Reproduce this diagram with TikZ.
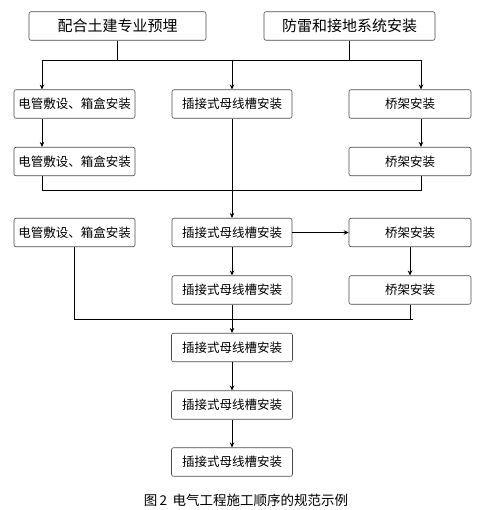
\documentclass[tikz,border=0pt]{standalone}
\usepackage{fontspec}
\newfontfamily\cjk{Noto Sans CJK SC}
\usetikzlibrary{arrows.meta}
\begin{document}
\begin{tikzpicture}[x=1pt,y=-1pt,
  box/.style={draw=black!70, rounded corners=2pt, minimum height=28.5pt, inner sep=0pt,
    line width=0.6pt, font=\cjk\fontsize{12.5}{14}\selectfont},
  topbox/.style={box, font=\cjk\fontsize{15}{17}\selectfont},
  ln/.style={draw=black, line width=0.8pt},
  arr/.style={ln, -{Stealth[length=5pt,width=4.5pt]}}]
\useasboundingbox (0,0) rectangle (483,510);
\fill[white] (0,0) rectangle (483,510);
% top
\node[topbox, minimum width=177pt] (t1) at (117.5,26) {配合土建专业预埋};
\node[topbox, minimum width=171pt] (t2) at (349.5,26) {防雷和接地系统安装};
% row 1
\node[box, minimum width=121pt] (a1) at (74.5,104) {电管敷设、箱盒安装};
\node[box, minimum width=120pt] (b1) at (232,104) {插接式母线槽安装};
\node[box, minimum width=122pt] (c1) at (410,104) {桥架安装};
% row 2
\node[box, minimum width=121pt] (a2) at (74.5,161.5) {电管敷设、箱盒安装};
\node[box, minimum width=122pt] (c2) at (410,161.5) {桥架安装};
% row 3
\node[box, minimum width=121pt] (a3) at (74.5,232.5) {电管敷设、箱盒安装};
\node[box, minimum width=120pt] (b3) at (232,232.5) {插接式母线槽安装};
\node[box, minimum width=122pt] (c3) at (410,232.5) {桥架安装};
% row 4
\node[box, minimum width=120pt] (b4) at (232,290) {插接式母线槽安装};
\node[box, minimum width=122pt] (c4) at (410,290) {桥架安装};
% rows 5-7
\node[box, minimum width=121pt] (b5) at (232,347.5) {插接式母线槽安装};
\node[box, minimum width=121pt] (b6) at (232,405) {插接式母线槽安装};
\node[box, minimum width=121pt] (b7) at (232,462) {插接式母线槽安装};
% caption
\node[font=\cjk\fontsize{13.5}{15}\selectfont, inner sep=0pt] (cap) at (246,500) {图\,2\, 电气工程施工顺序的规范示例};
% junction coordinates
\coordinate (h1l) at (42,60);
\coordinate (h1r) at (421,60);
\coordinate (h2l) at (42,190);
\coordinate (h2r) at (421,190);
\coordinate (h3l) at (74.5,319);
\coordinate (h3r) at (413,319);
% top connectors
\draw[ln] (t1.south) -- (t1.south |- h1l);
\draw[ln] (t2.south) -- (t2.south |- h1l);
\draw[ln] (h1l) -- (h1r);
\draw[arr] (h1l) -- (h1l |- a1.north);
\draw[arr] (b1.north |- h1l) -- (b1.north);
\draw[arr] (h1r) -- (h1r |- c1.north);
% row1 -> row2
\draw[arr] (h1l |- a1.south) -- (h1l |- a2.north);
\draw[arr] (h1r |- c1.south) -- (h1r |- c2.north);
% row2 -> bar
\draw[ln] (h2l |- a2.south) -- (h2l) -- (h2r) -- (h2r |- c2.south);
\draw[arr] (b1.south) -- (b3.north);
% row3
\draw[arr] (b3.east) -- (c3.west);
\draw[arr] (b3.south) -- (b4.north);
\draw[arr] (c3.south) -- (c4.north);
% bottom bar
\draw[ln] (a3.south) -- (h3l) -- (h3r);
\draw[ln] (c4.south) -- (c4.south |- h3r);
\draw[arr] (b4.south) -- (b5.north);
\draw[arr] (b5.south) -- (b6.north);
\draw[arr] (b6.south) -- (b7.north);
\end{tikzpicture}
\end{document}
